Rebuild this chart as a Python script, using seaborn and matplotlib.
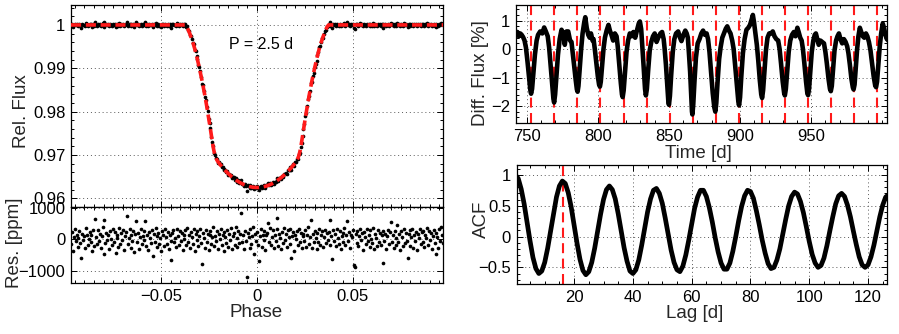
import numpy as np
import matplotlib
matplotlib.use("Agg")
import matplotlib.pyplot as plt
import seaborn as sns
from matplotlib.ticker import MultipleLocator, AutoMinorLocator, FuncFormatter, FixedLocator

# ---------------- data ----------------
# phase-folded transit: half model (phase >= 0, step 0.000485), mirrored for phase < 0
model_half = [0.96250, 0.96250, 0.96251, 0.96253, 0.96255, 0.96258, 0.96262, 0.96266, 0.96272, 0.96277,
              0.96284, 0.96291, 0.96298, 0.96307, 0.96316, 0.96326, 0.96336, 0.96347, 0.96359, 0.96371,
              0.96385, 0.96398, 0.96413, 0.96428, 0.96444, 0.96460, 0.96477, 0.96495, 0.96514, 0.96533,
              0.96553, 0.96573, 0.96594, 0.96616, 0.96639, 0.96662, 0.96686, 0.96710, 0.96736, 0.96762,
              0.96788, 0.96815, 0.96845, 0.96880, 0.96925, 0.96985, 0.97065, 0.97170, 0.97300, 0.97440,
              0.97585, 0.97725, 0.97860, 0.97990, 0.98120, 0.98245, 0.98365, 0.98480, 0.98595, 0.98705,
              0.98810, 0.98910, 0.99010, 0.99105, 0.99200, 0.99290, 0.99375, 0.99455, 0.99530, 0.99600,
              0.99665, 0.99725, 0.99785, 0.99840, 0.99890, 0.99940, 0.99975]
n_flat = 124
phase_lim = 0.097

residual_ppm = [
    -150, 220, -380, 80, 310, -60, 150, -240, 40, 260, -120, -600, 180, -30, 90, -280, 350, 120, -190, 20,
    240, -90, 130, -370, 300, -210, 640, 60, -140, 280, -50, 170, -260, 100, 380, -470, 600, -110, 210, -30,
    150, -300, 270, 10, -180, 330, -80, 220, -420, 140, 50, -230, 360, -140, 190, -20, 280, -350, 90, 240,
    735, -160, 40, 310, -270, 120, -60, 250, -400, 170, 580, -90, 200, -310, 60, 330, -150, 110, -20, 260,
    590, -200, 140, -330, 230, 30, -120, 300, -540, 180, -70, 350, -250, 90, 200, -160, 40, -380, 260, 120,
    -210, 310, 70, -140, 230, -300, 150, -40, -650, 190, 280, -100, 50, -240, 340, 110, -170, 260, -60, 200,
    -330, 150, 20, 280, -180, 360, -90, 120, -270, 230, 60, -140, 310, -380, 170, -30, 250, -210, 90, 330,
    -120, -790, 210, 40, -260, 300, -70, 180, -330, 130, 270, -150, 60, 390, -220, 110, -40, 260, -300, 170,
    20, 320, -190, 140, -360, 230, 80, -120, 290, -250, 160, -10, 350, -300, 100, 210, -170, 400, 50, -230,
    270, -110, 180, 820, -80, 140, -320, 250, -40, -1200, 200, 60, -260, 330, -140, 110, 380, -450, 160, -60,
    240, -170, -700, 90, 310, -230, 150, -30, 270, -350, 120, 200, 520, -90, 360, -180, 60, 280, -260, 140,
    -50, 310, 660, -210, 180, 40, -300, 240, -120, 370, -20, 160, -250, 290, 80, -160, 330, -580, 110, 230,
    -360, 140, 20, 270, -190, 330, -80, 200, -290, 90, 160, -40, 300, -230, 120, 380, -150, 60, 620, -260,
    180, -100, 250, 30, -320, 210, -70, 340, -180, 130, 260, -240, 70, 300, -130, 190, -30, 240, 600, -170,
    110, -630, 280, -60, 170, -220, 320, 40, -140, 250, -300, 90, 210, -80, 360, -190, 130, 580, -50, 230,
    -270, 150, 60, 300, -810, -870, 180, -110, 260, -200, 100, 340, -30, 190, -340, 240, 70, -160, 310, -60,
    150, -250, 280, 20, -130, 370, -300, 160, 50, -210, 290, -90, 210, -170, 120, -760, 260, -40, 180, -310,
    90, 300, -150, 220, 560, -70, 140, -280, 250, 30, -190, 460, -100, 180, -330, 270, 60, -220, 340, -120,
    200, -40, -580, 160, 290, -200, 80, 330, -260, 120, -60, 240, -350, 170, 30, 310, -140, 220, -90, 270,
    -230, 130, 50, 360, -180, 260, -20, 190, -310, 100, 280, -130, -470, 210, 60, -270, 330, -50, 400, 150,
    -120]

# light curve (Time [d], Diff. Flux [%])
time_d = [742.3, 743.5, 744.5, 745.5, 746.5, 747.5, 748.5,
          749.5, 750.6, 751.8, 752.6, 753.1, 753.8, 754.7, 755.8, 757.0,
          758.0, 759.5, 761.0, 762.3, 763.5, 764.8,
          765.8, 766.8, 768.0, 768.8, 769.3, 770.0, 770.9, 772.0, 773.2,
          774.5, 775.8, 776.8, 778.0, 779.2, 780.5, 781.5,
          782.3, 783.3, 784.5, 785.3, 785.8, 786.4, 787.3, 788.3, 789.3,
          790.5, 791.2, 792.2, 793.3, 794.3, 795.2, 796.3, 797.0,
          797.9, 798.9, 800.0, 800.9, 801.5, 802.1, 803.0, 804.0, 805.0,
          806.2, 807.5, 808.5, 809.6, 810.8, 812.0, 813.2,
          814.0, 815.0, 816.2, 817.0, 817.5, 818.2, 819.1, 820.2, 821.3,
          822.5, 823.8, 825.0, 826.3, 827.5, 828.8, 829.6, 830.5,
          831.3, 832.2, 833.2, 833.8, 834.5, 835.4, 836.5, 837.6,
          838.8, 840.0, 841.3, 842.5, 844.0, 845.2, 846.3,
          847.0, 847.9, 848.9, 849.6, 850.0, 850.7, 851.6, 852.7, 853.8,
          855.0, 856.5, 857.8, 858.8, 860.2, 861.5, 862.5, 863.3,
          864.0, 864.9, 865.7, 866.2, 866.5, 867.1, 868.0, 869.0, 870.2,
          871.5, 872.8, 874.0, 875.3, 876.5, 877.5,
          878.5, 879.6, 880.8, 881.9, 882.6, 883.3, 884.2, 885.3, 886.3,
          887.5, 888.7, 890.0, 891.0, 892.2, 893.3, 894.5,
          895.5, 896.6, 897.8, 898.8, 899.3, 900.0, 900.9, 902.0, 903.2,
          904.5, 905.8, 907.0, 908.2, 909.0, 909.8, 910.8,
          911.8, 912.8, 913.9, 914.9, 915.5, 916.2, 917.1, 918.2, 919.3,
          920.5, 921.8, 923.0, 924.2, 925.5, 926.8,
          927.8, 928.8, 930.0, 931.0, 931.5, 932.2, 933.1, 934.2, 935.3,
          936.5, 937.8, 939.0, 940.3, 941.2, 942.3, 943.3,
          944.2, 945.2, 946.4, 947.3, 947.8, 948.5, 949.4, 950.4, 951.5,
          952.5, 953.3, 954.3, 955.3, 956.5, 957.8, 959.0,
          960.0, 961.0, 962.2, 963.2, 963.8, 964.5, 965.4, 966.4, 967.5,
          968.5, 969.5, 970.6, 971.8, 973.0, 974.2, 975.3,
          976.2, 977.2, 978.3, 979.3, 979.8, 980.5, 981.4, 982.3, 983.2,
          984.2, 985.2, 986.3, 987.3, 988.5, 989.5, 990.6,
          991.7, 992.7, 993.9, 995.0, 995.6, 996.3, 997.2, 998.2, 999.2,
          1000.3, 1001.2, 1002.2, 1003.2, 1004.2]
diff_flux = [0.52, 0.60, 0.45, 0.55, 0.50, 0.42, 0.30,
             0.05, -0.45, -1.05, -1.45, -1.57, -1.40, -0.85, -0.20, 0.30,
             0.50, 0.62, 0.55, 0.76, 0.62, 0.45,
             0.05, -0.55, -1.30, -1.75, -1.88, -1.60, -0.95, -0.20, 0.35,
             0.68, 0.55, 0.15, 0.62, 0.62, 0.30, 0.25,
             -0.10, -0.55, -1.10, -1.42, -1.50, -1.30, -0.70, 0.00, 0.55,
             0.95, 1.12, 0.75, 0.50, 0.40, 0.55, 0.30, 0.35,
             0.00, -0.45, -0.95, -1.25, -1.32, -1.15, -0.60, 0.00, 0.40,
             0.65, 0.85, 0.65, 0.50, 0.30, 0.55, 0.45,
             0.10, -0.50, -1.20, -1.60, -1.69, -1.45, -0.85, -0.10, 0.30,
             0.55, 0.45, 0.60, 0.40, 0.65, 0.90, 0.97, 0.70,
             0.10, -0.60, -1.40, -1.63, -1.40, -0.75, -0.05, 0.25,
             0.45, 0.55, 0.25, 0.40, 0.55, 0.60, 0.35,
             0.00, -0.55, -1.30, -1.85, -1.96, -1.65, -0.90, -0.10, 0.35,
             0.55, 0.62, 0.40, 0.28, 0.50, 0.65, 0.55, 0.40,
             -0.10, -0.80, -1.70, -2.20, -2.30, -1.95, -1.10, -0.30, 0.20,
             0.35, 0.55, 0.65, 0.50, 0.55, 0.35,
             -0.10, -0.80, -1.55, -2.05, -2.20, -1.90, -1.15, -0.35, 0.05,
             0.40, 0.55, 0.72, 0.80, 0.65, 0.55, 0.30,
             0.00, -0.60, -1.30, -1.85, -1.98, -1.70, -0.95, -0.15, 0.35,
             0.68, 0.75, 0.85, 1.05, 1.20, 0.95, 0.55,
             0.15, -0.40, -1.10, -1.60, -1.72, -1.45, -0.80, -0.05, 0.40,
             0.55, 0.55, 0.62, 0.45, 0.35, 0.30,
             0.00, -0.50, -1.15, -1.55, -1.63, -1.40, -0.80, -0.10, 0.30,
             0.50, 0.60, 0.45, 0.75, 0.60, 0.40, 0.30,
             0.00, -0.50, -1.15, -1.55, -1.62, -1.40, -0.80, -0.10, 0.30,
             0.50, 0.55, 0.35, 0.15, 0.30, 0.25, 0.20,
             -0.10, -0.50, -1.05, -1.40, -1.48, -1.30, -0.70, -0.05, 0.30,
             0.45, 0.55, 0.35, 0.20, 0.35, 0.25, 0.10,
             -0.15, -0.55, -1.05, -1.35, -1.42, -1.25, -0.65, 0.00, 0.45,
             0.75, 0.60, 0.45, 0.40, 0.55, 0.45, 0.25,
             -0.05, -0.45, -0.95, -1.28, -1.34, -1.15, -0.55, 0.10, 0.55,
             0.90, 0.75, 0.50, 0.35, 0.30]
time_ticks = [750, 800, 850, 900, 950]

# rotation-period markers
rot_marks = [753.3, 769.5, 785.7, 801.9, 818.1, 834.3, 850.5, 866.7,
             882.9, 899.1, 915.3, 931.5, 947.7, 963.9, 980.1, 996.3]

# autocorrelation function, lag 0..127 d
acf = [1.00, 0.94, 0.77, 0.53, 0.23, -0.07, -0.34, -0.52, -0.60, -0.56,
       -0.42, -0.19, 0.09, 0.38, 0.64, 0.82, 0.90, 0.86, 0.71, 0.48,
       0.19, -0.11, -0.37, -0.55, -0.62, -0.57, -0.42, -0.19, 0.09, 0.36,
       0.60, 0.76, 0.82, 0.76, 0.61, 0.37, 0.10, -0.18, -0.40, -0.56,
       -0.60, -0.54, -0.38, -0.14, 0.13, 0.40, 0.61, 0.75, 0.78, 0.70,
       0.54, 0.30, 0.04, -0.22, -0.42, -0.54, -0.57, -0.48, -0.30, -0.06,
       0.20, 0.46, 0.64, 0.75, 0.75, 0.65, 0.47, 0.24, -0.02, -0.25,
       -0.43, -0.53, -0.53, -0.43, -0.24, 0.00, 0.26, 0.49, 0.66, 0.75,
       0.73, 0.62, 0.42, 0.19, -0.06, -0.27, -0.44, -0.52, -0.50, -0.38,
       -0.20, 0.04, 0.28, 0.50, 0.65, 0.72, 0.69, 0.57, 0.39, 0.16,
       -0.08, -0.29, -0.43, -0.50, -0.47, -0.35, -0.15, 0.09, 0.32, 0.53,
       0.66, 0.70, 0.65, 0.51, 0.32, 0.09, -0.13, -0.33, -0.46, -0.50,
       -0.46, -0.33, -0.14, 0.09, 0.32, 0.51, 0.64, 0.68]
acf_period = 16.2

period_text = "P = 2.5 d"

# ---------------- assemble ----------------
model = np.array([1.0] * n_flat + model_half[::-1] + model_half[1:] + [1.0] * n_flat)
phase = np.linspace(-phase_lim, phase_lim, len(model))
res = np.array(residual_ppm, dtype=float)
n = min(len(res), len(model))
phase_r = np.linspace(-phase_lim, phase_lim, n)
flux_pts = model[:n] + res[:n] * 1e-6
lags = np.arange(len(acf))

# ---------------- style ----------------
sns.set_theme(style="ticks")
plt.rcParams['font.family'] = ['Liberation Sans', 'DejaVu Sans']
plt.rcParams['axes.unicode_minus'] = True

RED = '#ff1a1a'
fig = plt.figure(figsize=(8.99, 3.34), dpi=100)
fig.patch.set_facecolor('white')

W, H = 899.0, 334.0
def add_ax(x0, y0, x1, y1):
    return fig.add_axes([x0 / W, 1 - y1 / H, (x1 - x0) / W, (y1 - y0) / H])

ax1 = add_ax(71, 5, 443, 207)
ax2 = add_ax(71, 207, 443, 283)
ax3 = add_ax(516, 5, 887, 123)
ax4 = add_ax(516.5, 165, 886.7, 284)

fmt = FuncFormatter(lambda v, p: ("%g" % v).replace('-', '\u2212'))

def style(ax):
    ax.set_facecolor('white')
    ax.tick_params(which='both', direction='in', top=True, right=True,
                   labelsize=12, colors='black', width=0.7, pad=4)
    ax.tick_params(which='major', length=4)
    ax.tick_params(which='minor', length=2)
    ax.grid(True, which='major', linestyle=(0, (1, 3)), color='0.35', linewidth=0.7)
    for s in ax.spines.values():
        s.set_linewidth(0.9)
        s.set_color('black')
    ax.xaxis.set_major_formatter(fmt)
    ax.yaxis.set_major_formatter(fmt)

# ---- transit panel ----
sns.scatterplot(x=phase_r, y=flux_pts, ax=ax1, s=7, color='black', linewidth=0, zorder=3)
sns.lineplot(x=phase, y=model, ax=ax1, estimator=None, sort=False, color=RED, linewidth=2.6, zorder=4)
ax1.lines[-1].set_linestyle((0, (2.8, 1.3)))
ax1.set_xlim(-phase_lim, phase_lim)
ax1.set_ylim(0.958, 1.0046)
ax1.yaxis.set_major_locator(MultipleLocator(0.01))
ax1.yaxis.set_minor_locator(AutoMinorLocator(5))
ax1.xaxis.set_major_locator(MultipleLocator(0.05))
ax1.xaxis.set_minor_locator(AutoMinorLocator(10))
style(ax1)
ax1.tick_params(labelbottom=False)
ax1.set_ylabel('Rel. Flux', fontsize=13.5)
ax1.yaxis.set_label_coords(-0.11, 0.475)
ax1.text(-0.0146, 0.9954, period_text, fontsize=11.5, ha='left', va='center', color='black')

# ---- residual panel ----
sns.scatterplot(x=phase_r, y=res[:n], ax=ax2, s=7, color='black', linewidth=0, zorder=3)
ax2.set_xlim(-phase_lim, phase_lim)
ax2.set_ylim(-1380, 1020)
ax2.set_yticks([-1000, 0, 1000])
ax2.xaxis.set_major_locator(MultipleLocator(0.05))
ax2.xaxis.set_minor_locator(AutoMinorLocator(10))
style(ax2)
ax2.set_xlabel('Phase', fontsize=13.5)
ax2.xaxis.set_label_coords(0.497, -0.27)
ax2.set_ylabel('Res. [ppm]', fontsize=13.5)
ax2.yaxis.set_label_coords(-0.128, 0.53)

# ---- light curve panel ----
for tm in rot_marks:
    ax3.axvline(tm, color=RED, linewidth=1.5, linestyle=(0, (4.8, 2.6)), zorder=2)
sns.lineplot(x=time_d, y=diff_flux, ax=ax3, estimator=None, sort=False, color='black',
             linewidth=3.3, zorder=3)
ax3.set_xlim(742.5, 1003.3)
ax3.set_ylim(-2.6, 1.55)
ax3.xaxis.set_major_locator(FixedLocator(time_ticks))
ax3.xaxis.set_minor_locator(MultipleLocator(10))
ax3.yaxis.set_major_locator(MultipleLocator(1))
ax3.yaxis.set_minor_locator(AutoMinorLocator(5))
style(ax3)
ax3.set_xlabel('Time [d]', fontsize=13.5)
ax3.xaxis.set_label_coords(0.493, -0.185)
ax3.set_ylabel('Diff. Flux [%]', fontsize=13.5)
ax3.yaxis.set_label_coords(-0.072, 0.42)

# ---- ACF panel ----
ax4.axvline(acf_period, color=RED, linewidth=1.5, linestyle=(0, (4.8, 2.6)), zorder=2)
sns.lineplot(x=lags, y=acf, ax=ax4, estimator=None, sort=False, color='black',
             linewidth=3.4, zorder=3)
ax4.set_xlim(0.4, 126.35)
ax4.set_ylim(-0.77, 1.16)
ax4.xaxis.set_major_locator(MultipleLocator(20))
ax4.xaxis.set_minor_locator(AutoMinorLocator(4))
ax4.yaxis.set_major_locator(MultipleLocator(0.5))
ax4.yaxis.set_minor_locator(AutoMinorLocator(5))
style(ax4)
ax4.set_xlabel('Lag [d]', fontsize=13.5)
ax4.xaxis.set_label_coords(0.48, -0.175)
ax4.set_ylabel('ACF', fontsize=13.5)
ax4.yaxis.set_label_coords(-0.072, 0.542)

for ax in (ax1, ax2, ax3, ax4):
    leg = ax.get_legend()
    if leg is not None:
        leg.remove()

fig.savefig('out.png', dpi=100, facecolor='white')
